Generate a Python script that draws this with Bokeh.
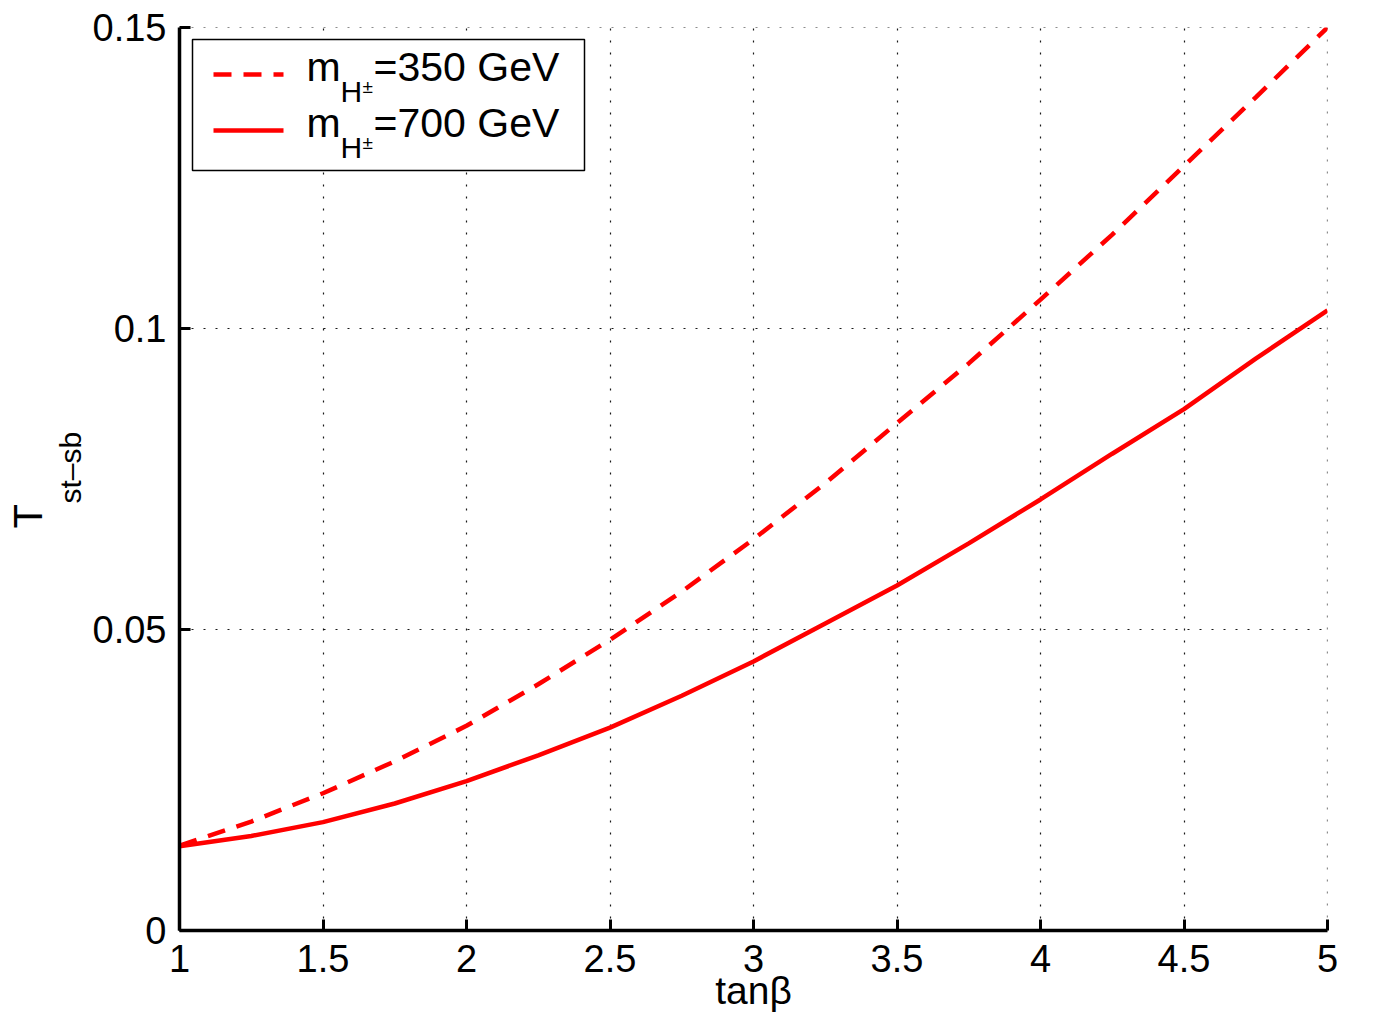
from bokeh.embed import file_html
from bokeh.models import BoxAnnotation, FixedTicker, Label, Range1d, Span, Title
from bokeh.plotting import figure
from bokeh.resources import INLINE

# Tst-sb as a function of tan(beta), for two charged-Higgs masses
tanb = [1, 1.25, 1.5, 1.75, 2, 2.25, 2.5, 2.75, 3, 3.25, 3.5, 3.75, 4, 4.25, 4.5, 4.75, 5]
t_350 = [0.0141, 0.0181, 0.0228, 0.0281, 0.0340, 0.0409, 0.0483, 0.0563, 0.0650,
         0.0743, 0.0843, 0.0942, 0.1048, 0.1156, 0.1270, 0.1384, 0.1500]
t_700 = [0.0140, 0.0157, 0.0180, 0.0211, 0.0248, 0.0291, 0.0337, 0.0390, 0.0447,
         0.0510, 0.0573, 0.0643, 0.0716, 0.0792, 0.0866, 0.0950, 0.1030]

x_ticks = [1, 1.5, 2, 2.5, 3, 3.5, 4, 4.5, 5]
x_tick_labels = ["1", "1.5", "2", "2.5", "3", "3.5", "4", "4.5", "5"]
y_ticks = [0, 0.05, 0.1, 0.15]
y_tick_labels = ["0", "0.05", "0.1", "0.15"]

series_masses = ["350", "700"]

FONT = "Liberation Sans"
RED = "#ff0000"

W, H = 1375, 1029
LEFT, RIGHT, TOP, BOTTOM = 179, 48, 27, 99
X0, X1 = 1, 5
Y0, Y1 = 0, 0.15

p = figure(
    width=W, height=H,
    x_range=Range1d(X0, X1), y_range=Range1d(Y0, Y1),
    output_backend="svg", toolbar_location=None,
    min_border_left=LEFT, min_border_right=RIGHT,
    min_border_top=TOP, min_border_bottom=BOTTOM,
)
p.outline_line_color = None
p.background_fill_color = "white"
p.border_fill_color = "white"

# canvas pixel -> data coordinate helpers for the decorations
fw = W - LEFT - RIGHT
fh = H - TOP - BOTTOM


def dx(px):
    return X0 + (px - LEFT) * (X1 - X0) / fw


def dy(py):
    return Y1 - (py - TOP) * (Y1 - Y0) / fh


# axes
for ax in (p.xaxis[0], p.yaxis[0]):
    ax.axis_line_width = 3.5
    ax.axis_line_color = "black"
    ax.major_tick_in = 11
    ax.major_tick_out = 0
    ax.major_tick_line_width = 3
    ax.major_tick_line_color = "black"
    ax.minor_tick_line_color = None
    ax.major_label_text_font = FONT
    ax.major_label_text_font_size = "38px"
    ax.major_label_text_color = "black"

p.xaxis.ticker = FixedTicker(ticks=x_ticks)
p.xaxis.major_label_overrides = dict(zip(x_ticks, x_tick_labels))
p.xaxis.major_label_standoff = 14
p.xaxis.axis_label = "tanβ"
p.xaxis.axis_label_text_font = FONT
p.xaxis.axis_label_text_font_size = "39px"
p.xaxis.axis_label_text_font_style = "normal"
p.xaxis.axis_label_text_color = "black"
p.xaxis.axis_label_standoff = -6

p.yaxis.ticker = FixedTicker(ticks=y_ticks)
p.yaxis.major_label_overrides = dict(zip(y_ticks, y_tick_labels))
p.yaxis.major_label_standoff = 13

# y axis title: T with a subscript, as two vertical titles in the left panel
p.add_layout(Title(text="st–sb", align="left", offset=427, standoff=5,
                   text_font=FONT, text_font_size="30px", text_font_style="normal",
                   text_color="black"), "left")
p.add_layout(Title(text="T", align="left", offset=402, standoff=0,
                   text_font=FONT, text_font_size="40px", text_font_style="normal",
                   text_color="black"), "left")

# dotted grid
GRID = dict(line_color="black", line_width=1.2, line_dash="2 10", line_alpha=0.9)
for g, t in ((p.xgrid[0], x_ticks), (p.ygrid[0], y_ticks)):
    g.ticker = FixedTicker(ticks=t)
    g.grid_line_color = GRID["line_color"]
    g.grid_line_width = GRID["line_width"]
    g.grid_line_dash = GRID["line_dash"]
    g.grid_line_alpha = GRID["line_alpha"]
# grid lines on the upper and right edges of the frame
p.add_layout(Span(location=Y1, dimension="width", level="underlay", **GRID))
p.add_layout(Span(location=X1, dimension="height", level="underlay", **GRID))

# curves
p.line(tanb, t_350, line_color=RED, line_width=4.5, line_dash="18 12")
p.line(tanb, t_700, line_color=RED, line_width=4.5)

# legend box
p.add_layout(BoxAnnotation(left=dx(192), right=dx(584), top=dy(39), bottom=dy(170),
                           fill_color="white", fill_alpha=1.0,
                           line_color="black", line_alpha=1.0, line_width=1.5,
                           level="annotation"))

styles = ["18 12", "solid"]
for i, (mass, dash) in enumerate(zip(series_masses, styles)):
    off = 56 * i
    p.line([dx(213), dx(283)], [dy(74 + off), dy(74 + off)], line_color=RED,
           line_width=4.5, line_dash=dash, level="overlay")
    p.add_layout(Label(x=dx(306), y=dy(89 + off), text="m", text_font=FONT,
                       text_font_size="41px", text_color="black"))
    p.add_layout(Label(x=dx(340), y=dy(107 + off), text="H", text_font=FONT,
                       text_font_size="30px", text_color="black"))
    p.add_layout(Label(x=dx(362), y=dy(96 + off), text="±", text_font=FONT,
                       text_font_size="19px", text_color="black"))
    p.add_layout(Label(x=dx(373), y=dy(89 + off), text="=" + mass + " GeV",
                       text_font=FONT, text_font_size="41px", text_color="black"))

open("out.html", "w").write(file_html(p, INLINE))
